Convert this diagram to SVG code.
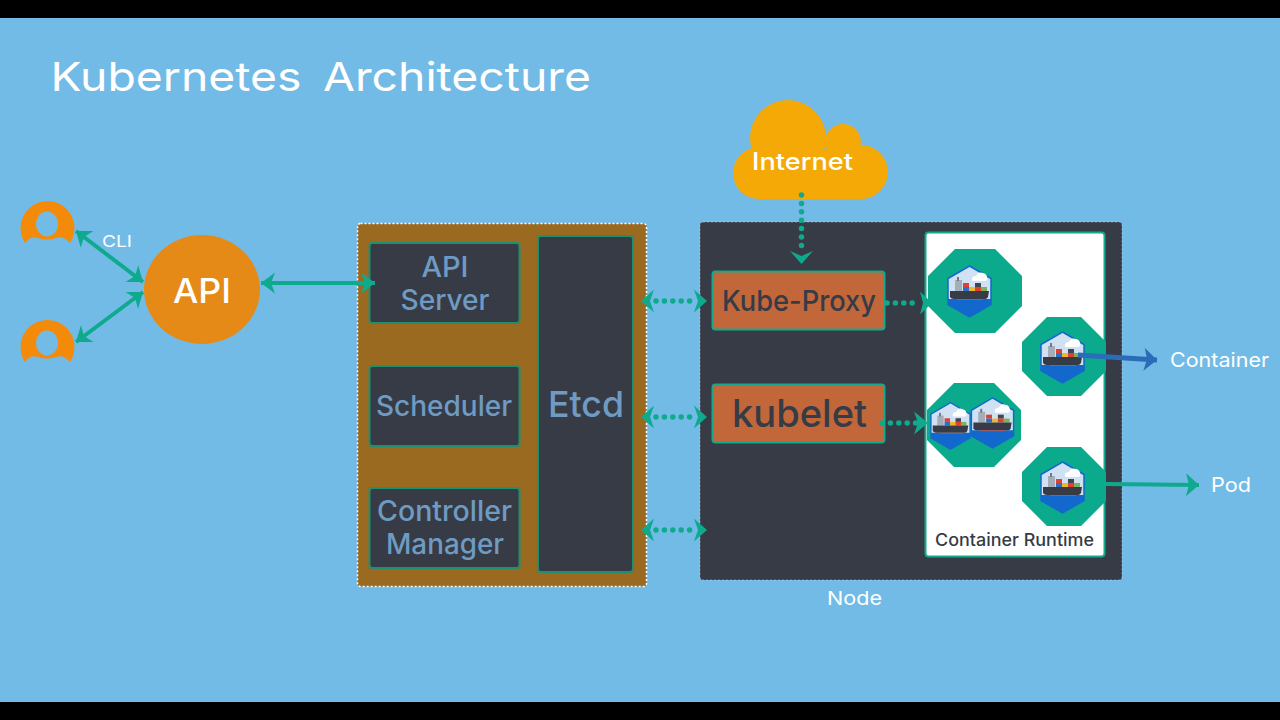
<svg xmlns="http://www.w3.org/2000/svg" width="1280" height="720" viewBox="0 0 1280 720">
<style>
text{font-family:Inter,"Open Sans","Liberation Sans",sans-serif}
.w{fill:#fff}
.m{fill:#6F9BC2;font-weight:500}
.d{fill:#363B46;font-weight:500}
.master{fill:#363B46;stroke:#1F8F70;stroke-width:2}
.svc{fill:#C1673A;stroke:#14A98C;stroke-width:2}
.solid{fill:none;stroke:#0FAA8E;stroke-width:4}
.dots{fill:none;stroke:#0FAA8E;stroke-width:5.500;stroke-linecap:round;stroke-dasharray:0 8.400}
.oct{fill:#0BAA8C}
.hd{fill:#0FAA8E}
</style>
<defs>
<marker id="h" markerUnits="userSpaceOnUse" markerWidth="18" markerHeight="24" refX="15" refY="12" orient="auto-start-reverse" viewBox="0 0 18 24"><path d="M1 1.500 15 12 1 22.500 5 12Z" fill="#0FAA8E"/></marker>
<marker id="hp" markerUnits="userSpaceOnUse" markerWidth="18" markerHeight="28" refX="14" refY="14" orient="auto" viewBox="0 0 18 28"><path d="M1 2.500 14 14 1 25.500 4 14Z" fill="#0FAA8E"/></marker>
<marker id="hb" markerUnits="userSpaceOnUse" markerWidth="18" markerHeight="28" refX="14" refY="14" orient="auto" viewBox="0 0 18 28"><path d="M1 2.500 14 14 1 25.500 4 14Z" fill="#2B6CB8"/></marker>
<symbol id="ship" viewBox="0 0 45 53" overflow="visible">
<path d="M22.500 1 44 13.500V39.500L22.500 52 1 39.500V13.500Z" fill="#D0E1F4" stroke="#1268CC" stroke-width="1.500"/>
<path d="M1 34H44V39.500L22.500 52 1 39.500Z" fill="#1268CC"/>
<path d="M25 16Q24 11 29 11Q31 6 36 8Q41 9 40 15Q39 16 38 16Z" fill="#fff"/>
<rect x="8" y="15" width="7" height="11" fill="#A4AEB8"/>
<rect x="10" y="12" width="2" height="4" fill="#6F7A85"/>
<rect x="16" y="18" width="6" height="4" fill="#E0402F"/>
<rect x="16" y="22" width="6" height="4" fill="#2F6EC0"/>
<rect x="22" y="22" width="6" height="4" fill="#EFB62F"/>
<rect x="28" y="18" width="6" height="4" fill="#3F4650"/>
<rect x="28" y="22" width="6" height="4" fill="#E0402F"/>
<rect x="34" y="22" width="6" height="4" fill="#7DB356"/>
<path d="M3 26H42L41 32Q40 34 38 34H7Q4 34 3 32Z" fill="#363B46"/>
<rect x="10" y="34" width="26" height="1" fill="#D6453A"/>
</symbol>
<path id="user" d="M25 243A27 27 0 1 1 70 243Q63 235 56 238Q47 241 38 238Q31 235 25 243Z" fill="#F48A0A"/>
</defs>
<rect width="1280" height="720" fill="#72BBE6"/>
<rect width="1280" height="18" fill="#000"/>
<rect y="702" width="1280" height="18" fill="#000"/>
<text id="title" class="w" x="50.500" y="91" font-size="40" word-spacing="-2" textLength="540.500" lengthAdjust="spacingAndGlyphs" xml:space="preserve">Kubernetes  Architecture</text>

<g id="user1"><use href="#user"/><ellipse cx="47" cy="224" rx="11" ry="12.500" fill="#72BBE6"/></g>
<g id="user2" transform="translate(0 119)"><use href="#user"/><ellipse cx="47" cy="224" rx="11" ry="12.500" fill="#72BBE6"/></g>
<text id="cli" class="w" x="102" y="247" font-size="16" textLength="30" lengthAdjust="spacingAndGlyphs">CLI</text>
<g id="api"><ellipse cx="202" cy="289.500" rx="58" ry="54.500" fill="#E68A17"/><text class="w" x="202" y="302.500" font-size="34" font-weight="500" text-anchor="middle" textLength="58" lengthAdjust="spacingAndGlyphs">API</text></g>

<g id="cloud" fill="#F5A906">
<circle cx="788" cy="138" r="38"/><circle cx="843" cy="142" r="18"/><circle cx="759" cy="173" r="26"/><circle cx="861" cy="172" r="27"/><rect x="759" y="150" width="102" height="49"/>
<text class="w" x="752" y="170" font-size="24" font-weight="500" textLength="101" lengthAdjust="spacingAndGlyphs">Internet</text>
</g>

<g id="master"><rect x="357.500" y="223.500" width="289" height="363" rx="3" fill="#9A6A20" stroke="#fff" stroke-width="1.500" stroke-dasharray="2 2"/></g>
<g id="api-server"><rect class="master" x="369.500" y="243" width="150" height="80" rx="3"/>
<text class="m" x="445" y="277" font-size="28" text-anchor="middle" textLength="47" lengthAdjust="spacingAndGlyphs">API</text>
<text class="m" x="445" y="310" font-size="28" text-anchor="middle" textLength="89" lengthAdjust="spacingAndGlyphs">Server</text></g>
<g id="scheduler"><rect class="master" x="369.500" y="366" width="150" height="80" rx="3"/>
<text class="m" x="444" y="416" font-size="28" text-anchor="middle" textLength="136" lengthAdjust="spacingAndGlyphs">Scheduler</text></g>
<g id="controller-manager"><rect class="master" x="369.500" y="488" width="150" height="80" rx="3"/>
<text class="m" x="444.500" y="521" font-size="28" text-anchor="middle" textLength="135" lengthAdjust="spacingAndGlyphs">Controller</text>
<text class="m" x="445" y="554" font-size="28" text-anchor="middle" textLength="118" lengthAdjust="spacingAndGlyphs">Manager</text></g>
<g id="etcd"><rect class="master" x="538" y="236" width="95" height="336" rx="3"/>
<text class="m" x="586" y="417" font-size="36" text-anchor="middle" textLength="76" lengthAdjust="spacingAndGlyphs">Etcd</text></g>

<g id="node"><rect x="700" y="222" width="422" height="358" rx="3" fill="#363B46" stroke="#C8D8E4" stroke-width="1" stroke-dasharray="2 2" stroke-opacity=".5"/></g>
<text id="node-label" class="w" x="827" y="605" font-size="19" textLength="55" lengthAdjust="spacingAndGlyphs">Node</text>
<g id="kube-proxy"><rect class="svc" x="712.500" y="271.500" width="172" height="58" rx="3"/>
<text class="d" x="799" y="311" font-size="29" text-anchor="middle" textLength="154" lengthAdjust="spacingAndGlyphs">Kube-Proxy</text></g>
<g id="kubelet"><rect class="svc" x="712.500" y="384.500" width="172" height="58" rx="3"/>
<text class="d" x="799.500" y="427" font-size="38" text-anchor="middle" textLength="135" lengthAdjust="spacingAndGlyphs">kubelet</text></g>

<g id="container-runtime"><rect x="925.500" y="232.500" width="179" height="324" rx="3" fill="#fff" stroke="#14A98C" stroke-width="2"/>
<text class="d" x="1014.500" y="546" font-size="17" text-anchor="middle" textLength="159" lengthAdjust="spacingAndGlyphs">Container Runtime</text></g>

<g id="pod1"><path class="oct" d="M955 249H995L1022 276V306L995 333H955L928 306V276Z"/><use href="#ship" x="947" y="265" width="45" height="53"/></g>
<g id="pod2"><path class="oct" d="M1047 317H1081L1106 342V371L1081 396H1047L1022 371V342Z"/><use href="#ship" x="1040" y="331" width="45" height="53"/></g>
<g id="pod3"><path class="oct" d="M954 383H994L1021 410V440L994 467H954L927 440V410Z"/><use href="#ship" x="930" y="400" width="41" height="52"/><use href="#ship" x="970" y="397" width="45" height="52"/></g>
<g id="pod4"><path class="oct" d="M1047 447H1081L1106 472V501L1081 526H1047L1022 501V472Z"/><use href="#ship" x="1040" y="461" width="45" height="53"/></g>

<g id="connectors">
<path class="solid" d="M76 231 143 282" marker-start="url(#h)" marker-end="url(#h)"/>
<path class="solid" d="M76 342 143 292" marker-start="url(#h)" marker-end="url(#h)"/>
<path class="solid" d="M261 283H375" marker-start="url(#h)" marker-end="url(#h)"/>
<path class="dots" d="M801.500 195V247"/><path class="hd" d="M790 251 801.500 256 813 251 801.500 264Z"/>
<g id="etcd-links">
<path class="dots" d="M656 301H692"/><path class="dots" d="M656 417H692"/><path class="dots" d="M656 530H692"/>
<path class="hd" d="M641 301 654 289.500 650 301 654 312.500ZM707 301 694 289.500 698 301 694 312.500Z"/>
<path class="hd" d="M641 417 654 405.500 650 417 654 428.500ZM707 417 694 405.500 698 417 694 428.500Z"/>
<path class="hd" d="M641 530 654 518.500 650 530 654 541.500ZM707 530 694 518.500 698 530 694 541.500Z"/>
</g>
<path class="dots" d="M887 303H920"/><path class="hd" d="M932 303 920 291.500 923 303 920 314.500Z"/>
<path class="dots" d="M882 423H916"/><path class="hd" d="M928 423 914 411.500 918 423 914 434.500Z"/>
<path d="M1078 355 1157 360" fill="none" stroke="#2B6CB8" stroke-width="5" marker-end="url(#hb)"/>
<path d="M1106 484 1199 485" fill="none" stroke="#0FAA8E" stroke-width="4" marker-end="url(#hp)"/>
</g>
<text id="container-label" class="w" x="1170" y="367" font-size="20" textLength="99" lengthAdjust="spacingAndGlyphs">Container</text>
<text id="pod-label" class="w" x="1211" y="492" font-size="20" textLength="40" lengthAdjust="spacingAndGlyphs">Pod</text>
</svg>
